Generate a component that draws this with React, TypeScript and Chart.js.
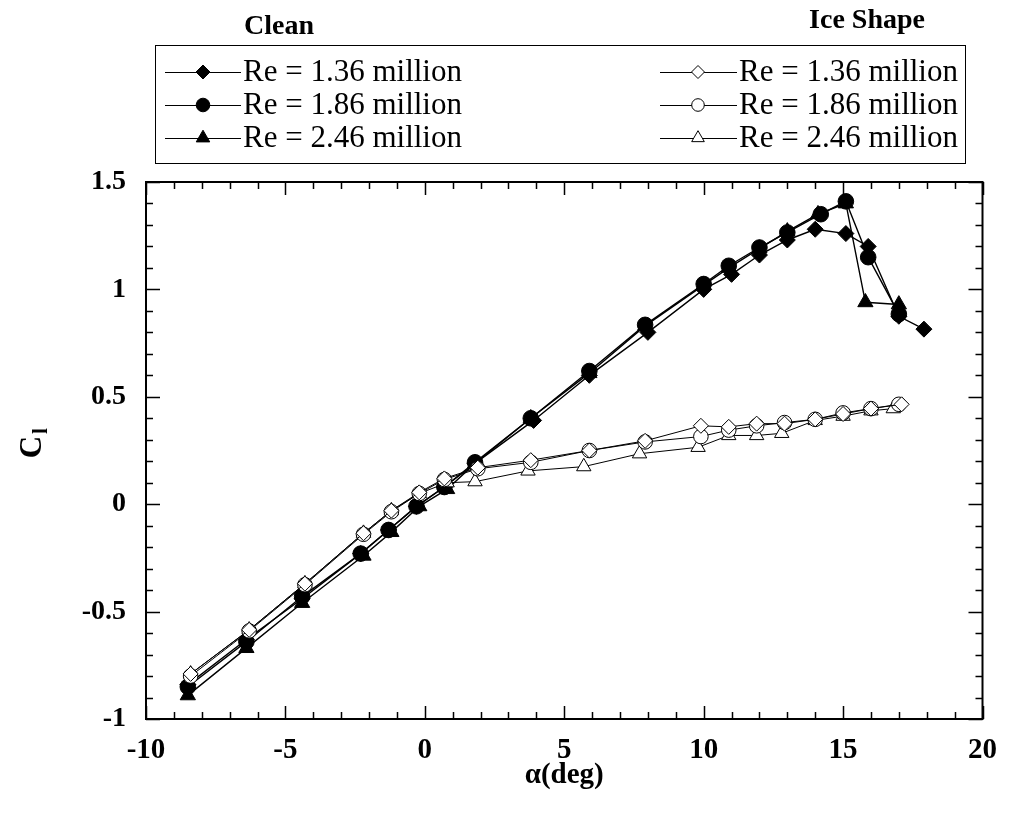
import React, { useEffect, useRef } from "react";
import { Chart, registerables } from "chart.js";
import { drawPoint } from "chart.js/helpers";

Chart.register(...registerables);

// ---------- data ----------
const cleanRe136X = [-8.5, -6.4, -4.4, -2.3, -1.3, -0.3, 0.7, 1.8, 3.9, 5.9, 8.0, 10.0, 11.0, 12.0, 13.0, 14.0, 15.1, 15.9, 17.0, 17.9];
const cleanRe136Y = [-0.84, -0.63, -0.44, -0.23, -0.12, -0.01, 0.08, 0.19, 0.39, 0.6, 0.8, 1.0, 1.07, 1.16, 1.23, 1.28, 1.26, 1.2, 0.875, 0.815];

const cleanRe186X = [-8.5, -6.4, -4.4, -2.3, -1.3, -0.3, 0.7, 1.8, 3.8, 5.9, 7.9, 10.0, 10.9, 12.0, 13.0, 14.2, 15.1, 15.9, 17.0];
const cleanRe186Y = [-0.85, -0.64, -0.43, -0.23, -0.12, -0.01, 0.08, 0.195, 0.4, 0.62, 0.835, 1.025, 1.11, 1.195, 1.265, 1.35, 1.41, 1.15, 0.885];

const cleanRe246X = [-8.5, -6.4, -4.4, -2.2, -1.2, -0.2, 0.8, 1.8, 3.8, 5.9, 7.9, 10.0, 10.9, 12.0, 13.0, 14.1, 15.1, 15.8, 17.0];
const cleanRe246Y = [-0.89, -0.67, -0.46, -0.24, -0.13, -0.01, 0.07, 0.19, 0.4, 0.61, 0.83, 1.02, 1.1, 1.19, 1.27, 1.35, 1.4, 0.94, 0.93];

const iceRe136X = [-8.4, -6.3, -4.3, -2.2, -1.2, -0.2, 0.7, 1.9, 3.8, 5.9, 7.9, 9.9, 10.9, 11.9, 12.9, 14.0, 15.0, 16.0, 17.1];
const iceRe136Y = [-0.79, -0.585, -0.37, -0.135, -0.03, 0.055, 0.12, 0.17, 0.205, 0.25, 0.295, 0.365, 0.36, 0.375, 0.375, 0.395, 0.42, 0.445, 0.465];

const iceRe186X = [-8.4, -6.3, -4.3, -2.2, -1.2, -0.2, 0.7, 1.9, 3.8, 5.9, 7.9, 9.9, 10.9, 11.9, 12.9, 14.0, 15.0, 16.0, 17.0];
const iceRe186Y = [-0.8, -0.59, -0.375, -0.14, -0.035, 0.05, 0.115, 0.165, 0.195, 0.25, 0.29, 0.315, 0.345, 0.365, 0.38, 0.395, 0.425, 0.445, 0.465];

const iceRe246X = [-8.4, -6.3, -4.3, -2.2, -1.2, -0.2, 0.8, 1.8, 3.7, 5.7, 7.7, 9.8, 10.9, 11.9, 12.8, 14.0, 15.0, 16.0, 16.8];
const iceRe246Y = [-0.79, -0.585, -0.37, -0.135, -0.03, 0.05, 0.1, 0.105, 0.155, 0.175, 0.235, 0.265, 0.32, 0.32, 0.33, 0.39, 0.41, 0.435, 0.445];

const seriesLabels = ["Re = 1.36 million", "Re = 1.86 million", "Re = 2.46 million"];
const groupTitles = ["Clean", "Ice Shape"];
const xAxisTitle = "\u03b1(deg)";
const yAxisTitleMain = "C";
const yAxisTitleSub = "l";
const xTickValues = [-10, -5, 0, 5, 10, 15, 20];
const yTickValues = [-1, -0.5, 0, 0.5, 1, 1.5];

const FONT = "'Liberation Serif', 'Times New Roman', serif";

const zip = (xs: number[], ys: number[]) => xs.map((x, i) => ({ x, y: ys[i] }));

const styles = ["rectRot", "circle", "triangle"];
const radii = [8, 7.8, 8.8];

function makeDataset(label: string, xs: number[], ys: number[], idx: number, filled: boolean) {
  return {
    label,
    data: zip(xs, ys),
    showLine: true,
    borderColor: "#000",
    borderWidth: filled ? 1.4 : 1,
    pointStyle: styles[idx],
    pointRadius: filled ? radii[idx] : radii[idx] - 0.5,
    pointBackgroundColor: filled ? "#000" : "#fff",
    pointBorderColor: "#000",
    pointBorderWidth: 1,
    fill: false,
    tension: 0,
  };
}

const frameTicksPlugin = {
  id: "frameTicks",
  beforeDatasetsDraw(chart: any) {
    const { ctx, chartArea: a, scales } = chart;
    const xs = scales.x;
    const ys = scales.y;
    ctx.save();
    ctx.strokeStyle = "#000";
    ctx.lineWidth = 1.5;
    for (let v = -10; v <= 20; v++) {
      const px = Math.round(xs.getPixelForValue(v)) + 0.5;
      const len = v % 5 === 0 ? 13 : 7;
      ctx.beginPath();
      ctx.moveTo(px, a.bottom);
      ctx.lineTo(px, a.bottom - len);
      ctx.moveTo(px, a.top);
      ctx.lineTo(px, a.top + len);
      ctx.stroke();
    }
    for (let i = -10; i <= 15; i++) {
      const v = i / 10;
      const py = Math.round(ys.getPixelForValue(v)) + 0.5;
      const len = i % 5 === 0 ? 14 : 7;
      ctx.beginPath();
      ctx.moveTo(a.left, py);
      ctx.lineTo(a.left + len, py);
      ctx.moveTo(a.right, py);
      ctx.lineTo(a.right - len, py);
      ctx.stroke();
    }
    ctx.lineWidth = 2;
    ctx.strokeRect(a.left, a.top, a.right - a.left, a.bottom - a.top);
    ctx.restore();
  },
  afterDraw(chart: any) {
    const { ctx, chartArea: a } = chart;
    ctx.save();
    ctx.fillStyle = "#000";
    ctx.font = `bold 29px ${FONT}`;
    ctx.textAlign = "center";
    ctx.textBaseline = "middle";
    ctx.fillText(xAxisTitle, (a.left + a.right) / 2 + 0, 776);
    ctx.save();
    ctx.translate(33, 447);
    ctx.rotate(-Math.PI / 2);
    ctx.font = `bold 31px ${FONT}`;
    ctx.fillText(yAxisTitleMain, 0, 0);
    ctx.font = `bold 21px ${FONT}`;
    ctx.fillText(yAxisTitleSub, 16, 9);
    ctx.restore();

    ctx.font = `bold 28px ${FONT}`;
    ctx.fillText(groupTitles[0], 279, 27);
    ctx.fillText(groupTitles[1], 867, 21);

    ctx.lineWidth = 1;
    ctx.strokeStyle = "#000";
    ctx.strokeRect(155.5, 45.5, 810, 118);
    const rowsY = [72, 105, 138];
    const cols = [
      { lx0: 165, lx1: 241, mx: 203, tx: 243, filled: true },
      { lx0: 660, lx1: 737, mx: 698, tx: 739, filled: false },
    ];
    ctx.font = `31px ${FONT}`;
    ctx.textAlign = "left";
    cols.forEach((c) => {
      rowsY.forEach((y, i) => {
        ctx.strokeStyle = "#000";
        ctx.lineWidth = 1;
        ctx.beginPath();
        ctx.moveTo(c.lx0, y + 0.5);
        ctx.lineTo(c.lx1, y + 0.5);
        ctx.stroke();
        ctx.fillStyle = c.filled ? "#000" : "#fff";
        ctx.strokeStyle = "#000";
        drawPoint(ctx, { pointStyle: styles[i], radius: c.filled ? radii[i] - 1 : radii[i] - 1.5, rotation: 0, borderWidth: 1 } as any, c.mx, y);
        ctx.fillStyle = "#000";
        ctx.fillText(seriesLabels[i], c.tx, y + 1);
      });
    });
    ctx.restore();
  },
};

export default function App() {
  const ref = useRef<HTMLCanvasElement | null>(null);
  useEffect(() => {
    if (!ref.current) return;
    const chart = new Chart(ref.current, {
      type: "scatter",
      data: {
        datasets: [
          makeDataset("Ice " + seriesLabels[0], iceRe136X, iceRe136Y, 0, false),
          makeDataset("Ice " + seriesLabels[1], iceRe186X, iceRe186Y, 1, false),
          makeDataset("Ice " + seriesLabels[2], iceRe246X, iceRe246Y, 2, false),
          makeDataset("Clean " + seriesLabels[0], cleanRe136X, cleanRe136Y, 0, true),
          makeDataset("Clean " + seriesLabels[2], cleanRe246X, cleanRe246Y, 2, true),
          makeDataset("Clean " + seriesLabels[1], cleanRe186X, cleanRe186Y, 1, true),
        ] as any,
      },
      options: {
        responsive: false,
        animation: false,
        layout: { padding: { top: 182, right: 19, left: 0, bottom: 0 } },
        plugins: { legend: { display: false }, tooltip: { enabled: false }, title: { display: false } },
        scales: {
          x: {
            type: "linear",
            min: -10,
            max: 20,
            afterFit: (s: any) => { s.height = 98; },
            afterBuildTicks: (s: any) => { s.ticks = xTickValues.map((v) => ({ value: v })); },
            grid: { display: false, drawTicks: false },
            border: { display: false },
            ticks: {
              color: "#000",
              padding: 14,
              maxRotation: 0,
              font: { family: FONT, size: 29, weight: "bold" },
              callback: (v: any) => String(v),
            },
          },
          y: {
            type: "linear",
            min: -1,
            max: 1.5,
            afterFit: (s: any) => { s.width = 146; },
            afterBuildTicks: (s: any) => { s.ticks = yTickValues.map((v) => ({ value: v })); },
            grid: { display: false, drawTicks: false },
            border: { display: false },
            ticks: {
              color: "#000",
              padding: 20,
              font: { family: FONT, size: 28, weight: "bold" },
              callback: (v: any) => String(v),
            },
          },
        },
      } as any,
      plugins: [frameTicksPlugin],
    });
    return () => chart.destroy();
  }, []);
  return (
    <div style={{ position: "fixed", left: 0, top: 0, width: 1011, height: 817, background: "#fff" }}>
      <canvas ref={ref} width={1011} height={817} style={{ width: 1011, height: 817, display: "block" }} />
    </div>
  );
}
